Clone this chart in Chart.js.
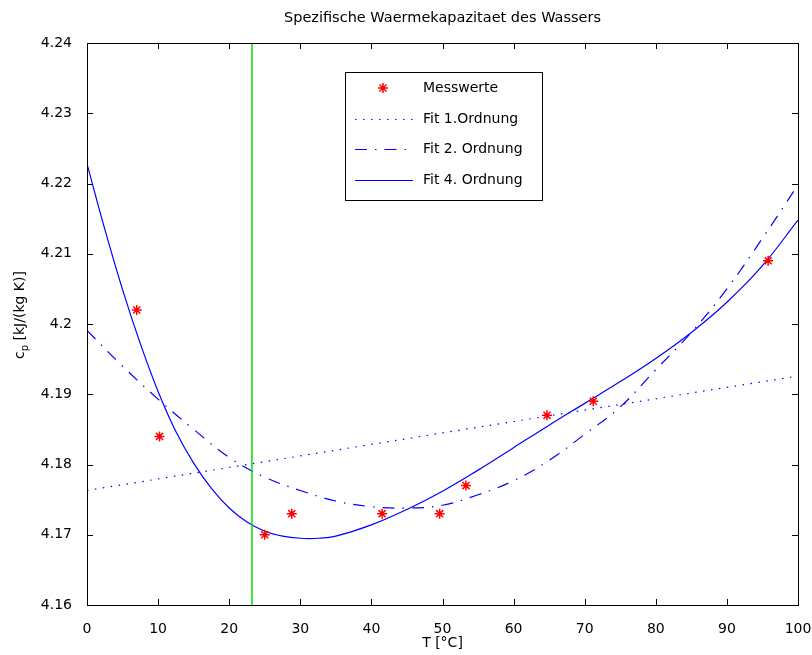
<!DOCTYPE html>
<html>
<head>
<meta charset="utf-8">
<title>Spezifische Waermekapazitaet des Wassers</title>
<script src="https://cdn.jsdelivr.net/npm/chart.js@4.4.0/dist/chart.umd.min.js"></script>
<style>
  html, body { margin: 0; padding: 0; background: #fff; }
</style>
</head>
<body>
<canvas id="cpChart" width="812" height="655"></canvas>
<script>
// Messwerte (T in °C, cp in kJ/(kg K))
const messT = [7, 10.2, 25, 28.8, 41.5, 49.6, 53.3, 64.7, 71.2, 95.8];
const messCp = [4.202, 4.184, 4.17, 4.173, 4.173, 4.173, 4.177, 4.187, 4.189, 4.209];

// Fit-Kurven
const fit1T = [0, 50, 100];
const fit1Cp = [4.1763, 4.1845, 4.1926];

const fit2T = [0, 5, 10, 15, 20, 25, 30, 35, 40, 45, 50, 55, 60, 65, 70, 75, 80, 85, 90, 95, 100];
const fit2Cp = [4.1991, 4.194, 4.1893, 4.185, 4.181, 4.1782, 4.1763, 4.1748, 4.174, 4.1738,
  4.1742, 4.1757, 4.1777, 4.1806, 4.1843, 4.1882, 4.1935, 4.1988, 4.205, 4.2122, 4.2198];

const fit4T = [0, 2.5, 5, 7.5, 10, 12.5, 15, 17.5, 20, 22.5, 25, 27.5, 30, 32.5, 35, 40, 45, 50,
  55, 60, 65, 70, 75, 80, 85, 90, 95, 100];
const fit4Cp = [4.2228, 4.2135, 4.2049, 4.1972, 4.1904, 4.1847, 4.1802, 4.1766, 4.1738, 4.1718, 4.1705,
  4.1698, 4.1695, 4.1695, 4.1698, 4.1714, 4.1736, 4.1762, 4.1792, 4.1824, 4.1856, 4.1887, 4.1918,
  4.1951, 4.1988, 4.2031, 4.2083, 4.2148];

// grüne Markierungslinie
const markT = [23.2, 23.2];
const markCp = [4.16, 4.24];

// Achsen
const xTicks = [0, 10, 20, 30, 40, 50, 60, 70, 80, 90, 100];
const yTicks = [4.16, 4.17, 4.18, 4.19, 4.2, 4.21, 4.22, 4.23, 4.24];

const TITLE = "Spezifische Waermekapazitaet des Wassers";
const FONT = "DejaVu Sans";
const BLUE = "#0000ff";
const RED = "#ff0000";

const toPoints = (xs, ys) => xs.map((x, i) => ({ x: x, y: ys[i] }));

// Titel, Ticks nach innen, Rahmen (wie MATLAB)
const boxPlugin = {
  id: "boxTicks",
  afterDraw(chart) {
    const ctx = chart.ctx;
    const a = chart.chartArea;
    const xs = chart.scales.x;
    const ys = chart.scales.y;
    ctx.save();
    ctx.strokeStyle = "#000";
    ctx.lineWidth = 1;
    ctx.beginPath();
    xTicks.forEach((t) => {
      const px = Math.round(xs.getPixelForValue(t)) + 0.5;
      ctx.moveTo(px, a.bottom); ctx.lineTo(px, a.bottom - 6);
      ctx.moveTo(px, a.top); ctx.lineTo(px, a.top + 6);
    });
    yTicks.forEach((t) => {
      const py = Math.round(ys.getPixelForValue(t)) + 0.5;
      ctx.moveTo(a.left, py); ctx.lineTo(a.left + 6, py);
      ctx.moveTo(a.right, py); ctx.lineTo(a.right - 6, py);
    });
    ctx.stroke();
    ctx.strokeRect(Math.round(a.left) + 0.5, Math.round(a.top) + 0.5,
      Math.round(a.right - a.left), Math.round(a.bottom - a.top));

    // Titel über dem Plotbereich zentriert
    ctx.fillStyle = "#000";
    ctx.textAlign = "center";
    ctx.textBaseline = "middle";
    ctx.font = "14.5px '" + FONT + "'";
    ctx.fillText(TITLE, (a.left + a.right) / 2, 18);

    // y-Achsenbeschriftung mit Index p
    ctx.translate(20, 315);
    ctx.rotate(-Math.PI / 2);
    ctx.textAlign = "left";
    ctx.font = "14px '" + FONT + "'";
    const wc = ctx.measureText("c").width;
    const rest = " [kJ/(kg K)]";
    const wr = ctx.measureText(rest).width;
    ctx.font = "10px '" + FONT + "'";
    const wp = ctx.measureText("p").width;
    const x0 = -(wc + wp + wr) / 2;
    ctx.font = "14px '" + FONT + "'";
    ctx.fillText("c", x0, 0);
    ctx.font = "10px '" + FONT + "'";
    ctx.fillText("p", x0 + wc, 5);
    ctx.font = "14px '" + FONT + "'";
    ctx.fillText(rest, x0 + wc + wp, 0);
    ctx.restore();
  },
};

// Legende im Plotbereich
const legendPlugin = {
  id: "innerLegend",
  afterDraw(chart) {
    const ctx = chart.ctx;
    const box = { x: 345, y: 72, w: 197, h: 128 };
    const rows = [88, 119, 149, 180];
    const sets = chart.data.datasets.slice(0, 4);
    ctx.save();
    ctx.fillStyle = "#fff";
    ctx.fillRect(box.x, box.y, box.w, box.h);
    ctx.strokeStyle = "#000";
    ctx.lineWidth = 1;
    ctx.strokeRect(box.x + 0.5, box.y + 0.5, box.w, box.h);
    sets.forEach((ds, i) => {
      const y = rows[i];
      if (ds.showLine) {
        ctx.strokeStyle = ds.borderColor;
        ctx.lineWidth = ds.borderWidth;
        ctx.setLineDash(ds.borderDash || []);
        ctx.beginPath();
        ctx.moveTo(355, y + 0.5);
        ctx.lineTo(413, y + 0.5);
        ctx.stroke();
        ctx.setLineDash([]);
      } else {
        ctx.strokeStyle = ds.borderColor;
        ctx.fillStyle = ds.backgroundColor;
        ctx.lineWidth = ds.pointBorderWidth;
        Chart.helpers.drawPoint(ctx, {
          pointStyle: "star", radius: ds.pointRadius, borderWidth: ds.pointBorderWidth, rotation: 0,
        }, 383, y);
      }
      ctx.fillStyle = "#000";
      ctx.font = "14px '" + FONT + "'";
      ctx.textBaseline = "middle";
      ctx.textAlign = "left";
      ctx.fillText(ds.label, 423, y);
    });
    ctx.restore();
  },
};

const ctx = document.getElementById("cpChart").getContext("2d");
new Chart(ctx, {
  type: "scatter",
  data: {
    datasets: [
      {
        label: "Messwerte",
        data: toPoints(messT, messCp),
        showLine: false,
        pointStyle: "star",
        pointRadius: 5,
        pointBorderWidth: 1.5,
        borderColor: RED,
        backgroundColor: RED,
        order: 0,
      },
      {
        label: "Fit 1.Ordnung",
        data: toPoints(fit1T, fit1Cp),
        showLine: true,
        borderColor: BLUE,
        borderWidth: 1.2,
        borderDash: [1.5, 6.5],
        pointRadius: 0,
        order: 2,
      },
      {
        label: "Fit 2. Ordnung",
        data: toPoints(fit2T, fit2Cp),
        showLine: true,
        borderColor: BLUE,
        borderWidth: 1.2,
        borderDash: [12, 8, 1.5, 8],
        pointRadius: 0,
        tension: 0.4,
        order: 2,
      },
      {
        label: "Fit 4. Ordnung",
        data: toPoints(fit4T, fit4Cp),
        showLine: true,
        borderColor: BLUE,
        borderWidth: 1.2,
        pointRadius: 0,
        tension: 0.4,
        order: 2,
      },
      {
        label: "Markierung",
        data: toPoints(markT, markCp),
        showLine: true,
        borderColor: "#00e000",
        borderWidth: 1.5,
        pointRadius: 0,
        order: 1,
      },
    ],
  },
  options: {
    responsive: false,
    animation: false,
    devicePixelRatio: 1,
    layout: { padding: { left: 0, right: 14, top: 43, bottom: 0 } },
    plugins: {
      legend: { display: false },
      tooltip: { enabled: false },
      title: { display: false },
    },
    scales: {
      x: {
        type: "linear",
        min: 0,
        max: 100,
        afterFit: (s) => { s.height = 50; s.paddingLeft = 0; s.paddingRight = 0; },
        afterBuildTicks: (s) => { s.ticks = xTicks.map((v) => ({ value: v })); },
        grid: { display: false },
        border: { display: false },
        ticks: {
          color: "#000",
          padding: 8,
          maxRotation: 0,
          font: { family: FONT, size: 14 },
          callback: (v) => String(v),
        },
        title: {
          display: true,
          text: "T [°C]",
          color: "#000",
          font: { family: FONT, size: 14 },
          padding: { top: 0, bottom: 3 },
        },
      },
      y: {
        type: "linear",
        min: 4.16,
        max: 4.24,
        afterFit: (s) => { s.width = 87; s.paddingTop = 0; s.paddingBottom = 0; },
        afterBuildTicks: (s) => { s.ticks = yTicks.map((v) => ({ value: v })); },
        grid: { display: false },
        border: { display: false },
        ticks: {
          color: "#000",
          padding: 7,
          font: { family: FONT, size: 14 },
          callback: (v) => String(Number(v.toFixed(2))),
        },
      },
    },
  },
  plugins: [boxPlugin, legendPlugin],
});
</script>
</body>
</html>
